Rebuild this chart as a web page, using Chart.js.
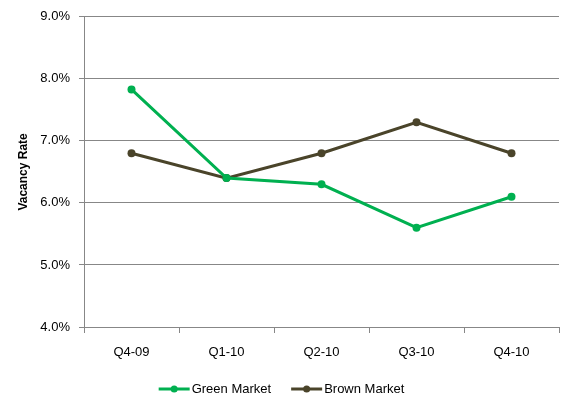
<!DOCTYPE html>
<html>
<head>
<meta charset="utf-8">
<script src="https://cdn.jsdelivr.net/npm/chart.js@4"></script>
<style>
  html, body { margin: 0; padding: 0; background: #fff; }
  #wrap { width: 563px; height: 397px; }
</style>
</head>
<body>
<div id="wrap"><canvas id="vacancyChart"></canvas></div>
<script>
// data
const quarters = ['Q4-09', 'Q1-10', 'Q2-10', 'Q3-10', 'Q4-10'];
const greenMarket = [7.83, 6.4, 6.3, 5.6, 6.1];
const brownMarket = [6.8, 6.4, 6.8, 7.3, 6.8];
const yTicks = [4, 5, 6, 7, 8, 9];

const GREEN = '#00b050';
const BROWN = '#4a442a';
const FONT = '"Liberation Sans", Arial, sans-serif';

// legenda digambar sendiri: garis dengan titik di tengah, di bawah chart
const bottomLegend = {
    id: 'bottomLegend',
    afterDraw(chart) {
        const c = chart.ctx;
        const items = chart.data.datasets;
        const lineW = 31, textGap = 2, itemGap = 20;
        c.save();
        c.font = '13px ' + FONT;
        c.textBaseline = 'middle';
        const widths = items.map(ds => lineW + textGap + c.measureText(ds.label).width);
        const total = widths.reduce((a, b) => a + b, 0) + itemGap * (items.length - 1);
        let x = (chart.width - total) / 2;
        const y = 389;
        items.forEach((ds, i) => {
            c.strokeStyle = ds.borderColor;
            c.lineWidth = 3;
            c.beginPath();
            c.moveTo(x, y); c.lineTo(x + lineW, y);
            c.stroke();
            c.fillStyle = ds.borderColor;
            c.beginPath();
            c.arc(x + lineW / 2, y, 3.5, 0, Math.PI * 2);
            c.fill();
            c.fillStyle = '#000';
            c.textAlign = 'left';
            c.fillText(ds.label, x + lineW + textGap, y);
            x += widths[i] + itemGap;
        });
        c.restore();
    }
};

document.addEventListener('DOMContentLoaded', function() {
    const ctx = document.getElementById('vacancyChart').getContext('2d');
    new Chart(ctx, {
        type: 'line',
        data: {
            labels: quarters,
            datasets: [{
                label: 'Green Market',
                data: greenMarket,
                borderColor: GREEN,
                backgroundColor: GREEN,
                borderWidth: 3,
                pointRadius: 4,
                pointBackgroundColor: GREEN,
                pointBorderWidth: 0,
                tension: 0
            }, {
                label: 'Brown Market',
                data: brownMarket,
                borderColor: BROWN,
                backgroundColor: BROWN,
                borderWidth: 3,
                pointRadius: 4,
                pointBackgroundColor: BROWN,
                pointBorderWidth: 0,
                tension: 0
            }]
        },
        plugins: [bottomLegend],
        options: {
            responsive: true,
            maintainAspectRatio: false,
            animation: false,
            layout: { padding: { left: 0, right: 3, top: 14, bottom: 30 } },
            scales: {
                x: {
                    offset: true,
                    afterFit: function(scale) { scale.height = 40; },
                    grid: {
                        offset: true,
                        drawOnChartArea: false,
                        color: '#878787',
                        tickLength: 6
                    },
                    border: { color: '#878787', width: 1 },
                    ticks: {
                        color: '#000',
                        padding: 12,
                        font: { size: 13, family: FONT },
                        maxRotation: 0
                    }
                },
                y: {
                    min: 4,
                    max: 9,
                    afterBuildTicks: function(scale) {
                        scale.ticks = yTicks.map(v => ({ value: v }));
                    },
                    afterFit: function(scale) { scale.width = 84; },
                    grid: {
                        color: '#878787',
                        tickLength: 5
                    },
                    border: { color: '#878787', width: 1 },
                    title: {
                        display: true,
                        text: 'Vacancy Rate',
                        color: '#000',
                        font: { size: 12, weight: 'bold', family: FONT },
                        padding: { top: 16, bottom: 4 }
                    },
                    ticks: {
                        color: '#000',
                        padding: 9,
                        font: { size: 13, family: FONT },
                        callback: function(v) { return v.toFixed(1) + '%'; }
                    }
                }
            },
            plugins: {
                legend: { display: false },
                tooltip: { enabled: false }
            }
        }
    });
});
</script>
</body>
</html>
